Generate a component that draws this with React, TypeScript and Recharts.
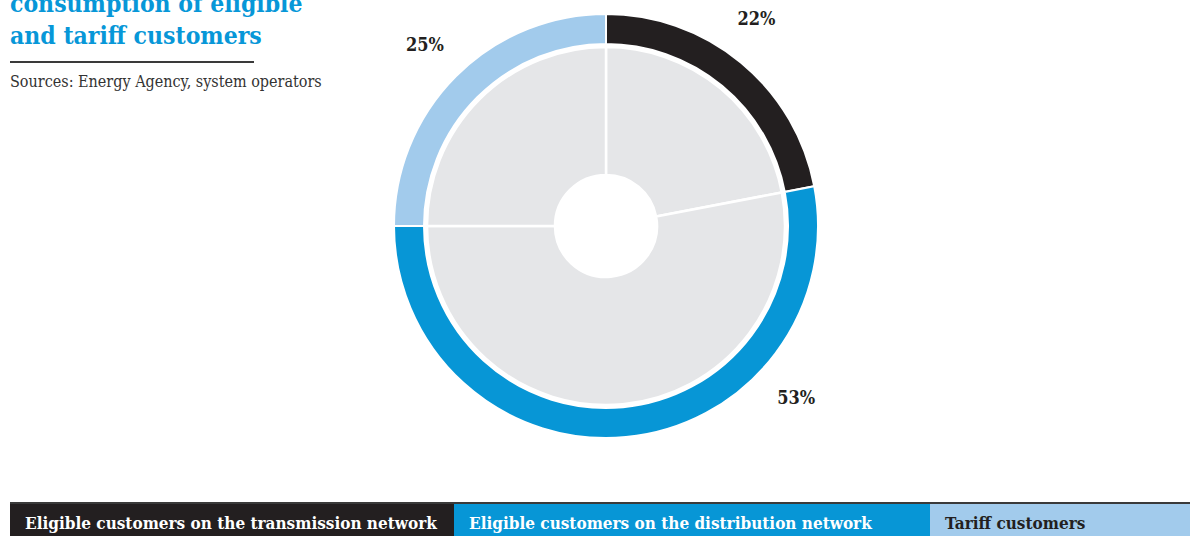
import React from "react";
import { PieChart, Pie, Cell, Legend } from "recharts";

const categories = [
  "Eligible customers on the transmission network",
  "Eligible customers on the distribution network",
  "Tariff customers",
];
const shares = [22, 53, 25];
const colors = ["#231f20", "#0796d6", "#a2cbec"];
const legendText = ["#ffffff", "#ffffff", "#231f20"];
const legendWidths = [444, 476, 260];

const data = categories.map((name, i) => ({ name, value: shares[i] }));

const FONT = "'DejaVu Serif', serif";
const RAD = Math.PI / 180;
// labels in the original are nudged away from the slice middles
const labelAngleOverride: Record<string, number> = {
  "Eligible customers on the transmission network": 54,
  "Eligible customers on the distribution network": -42,
};

const renderLabel = (props: any) => {
  const { cx, cy, midAngle, payload, value } = props;
  const angle = labelAngleOverride[payload?.name] ?? midAngle;
  const r = 256;
  const x = cx + r * Math.cos(-angle * RAD);
  const y = cy + r * Math.sin(-angle * RAD);
  return (
    <text
      x={x}
      y={y}
      textAnchor="middle"
      dominantBaseline="central"
      fontFamily={FONT}
      fontWeight="bold"
      fontSize={18}
      fill="#231f20"
      style={{ fontStretch: "condensed" }}
    >
      {value}%
    </text>
  );
};

const LegendBar = () => (
  <div style={{ borderTop: "2px solid #3a3a3a", display: "flex", height: 32, marginLeft: 10 }}>
    {categories.map((c, i) => (
      <div
        key={c}
        style={{
          width: i === 2 ? undefined : legendWidths[i],
          flex: i === 2 ? 1 : undefined,
          background: colors[i],
          color: legendText[i],
          fontFamily: FONT,
          fontWeight: "bold",
          fontStretch: "condensed",
          fontSize: 17,
          lineHeight: "38px",
          paddingLeft: 15,
          boxSizing: "border-box",
          whiteSpace: "nowrap",
          overflow: "hidden",
        }}
      >
        {c}
      </div>
    ))}
  </div>
);

export default function App() {
  return (
    <div style={{ position: "relative", width: 1190, height: 536, overflow: "hidden", background: "#fff" }}>
      <style>{"body{margin:0}"}</style>
      <div
        style={{
          position: "absolute",
          left: 10,
          top: -12,
          fontFamily: FONT,
          fontWeight: "bold",
          fontStretch: "condensed",
          fontSize: 24.5,
          lineHeight: "32px",
          color: "#0797d8",
        }}
      >
        consumption of eligible
        <br />
        and tariff customers
      </div>
      <div style={{ position: "absolute", left: 10, top: 61, width: 244, height: 2, background: "#3a3a3a" }} />
      <div
        style={{
          position: "absolute",
          left: 10,
          top: 72,
          fontFamily: FONT,
          fontStretch: "condensed",
          fontSize: 16,
          color: "#333",
        }}
      >
        Sources: Energy Agency, system operators
      </div>
      <PieChart width={1190} height={536} margin={{ top: 0, right: 0, bottom: 0, left: 0 }}>
        <Pie
          data={data}
          dataKey="value"
          nameKey="name"
          cx={606}
          cy={226}
          innerRadius={51}
          outerRadius={179}
          startAngle={90}
          endAngle={-270}
          stroke="#ffffff"
          strokeWidth={2.5}
          isAnimationActive={false}
          legendType="none"
        >
          {data.map((d) => (
            <Cell key={d.name} fill="#e5e6e8" />
          ))}
        </Pie>
        <Pie
          data={data}
          dataKey="value"
          nameKey="name"
          cx={606}
          cy={226}
          innerRadius={182}
          outerRadius={212}
          startAngle={90}
          endAngle={-270}
          stroke="#ffffff"
          strokeWidth={2}
          isAnimationActive={false}
          label={renderLabel}
          labelLine={false}
        >
          {data.map((d, i) => (
            <Cell key={d.name} fill={colors[i]} />
          ))}
        </Pie>
        <Legend
          content={() => <LegendBar />}
          wrapperStyle={{ position: "absolute", left: 0, bottom: 0, width: 1190, top: 502 }}
        />
      </PieChart>
    </div>
  );
}
